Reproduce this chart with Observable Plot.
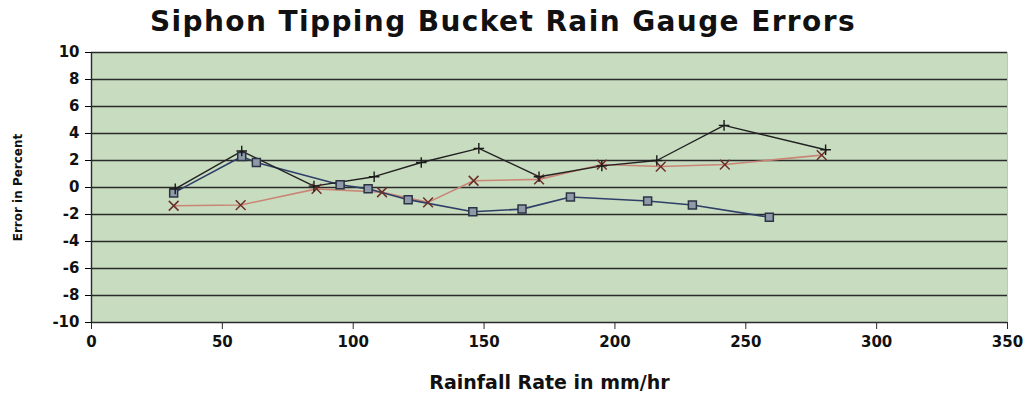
<!DOCTYPE html>
<html>
<head>
<meta charset="utf-8">
<script src="https://cdn.jsdelivr.net/npm/d3@7"></script>
<script src="https://cdn.jsdelivr.net/npm/@observablehq/plot@0.6"></script>
<style>
  body { margin: 0; background: #fff; font-family: "DejaVu Sans", "Liberation Sans", Arial, sans-serif; }
  #title { height: 40px; line-height: 44px; text-align: center; font-weight: bold; font-size: 28px; letter-spacing: 1.4px; padding-right: 22px; color: #111; }
</style>
</head>
<body>
<div id="title">Siphon Tipping Bucket Rain Gauge Errors</div>
<div id="chart"></div>
<script>
// Rainfall rate (mm/hr) and gauge error (%) for each test series
const blueRate  = [31.4, 57.4, 63, 95, 105.7, 121, 145.7, 164.5, 183, 212.5, 229.6, 259];
const blueError = [-0.4, 2.3, 1.85, 0.2, -0.1, -0.9, -1.8, -1.6, -0.7, -1.0, -1.3, -2.2];

const redRate  = [31.4, 57, 86, 111, 128.6, 146, 171, 195, 217.5, 242, 279];
const redError = [-1.35, -1.3, -0.1, -0.35, -1.1, 0.5, 0.6, 1.7, 1.55, 1.7, 2.4];

const blackRate  = [32, 57.4, 85, 108, 126, 148, 171, 195, 216, 241.7, 280.5];
const blackError = [-0.1, 2.7, 0.1, 0.8, 1.85, 2.9, 0.8, 1.6, 2.0, 4.6, 2.8];

const xTicks = [0, 50, 100, 150, 200, 250, 300, 350];
const yTicks = [-10, -8, -6, -4, -2, 0, 2, 4, 6, 8, 10];

const toRows = (xs, ys) => xs.map((x, i) => ({x, y: ys[i]}));
const blue = toRows(blueRate, blueError);
const red = toRows(redRate, redError);
const black = toRows(blackRate, blackError);

const font = {fontSize: 15, fontWeight: "bold", fill: "#111"};
const plain = d => String(d); // hyphen-minus for negative ticks

const chart = Plot.plot({
  width: 1028,
  height: 353,
  marginLeft: 91,
  marginRight: 21,
  marginTop: 12,
  marginBottom: 71,
  style: {fontFamily: "'DejaVu Sans', 'Liberation Sans', Arial, sans-serif", background: "#fff"},
  x: {domain: [0, 350]},
  y: {domain: [-10, 10]},
  marks: [
    Plot.frame({fill: "#c8dcc0", stroke: "#b9ccb2"}),
    Plot.ruleY(yTicks.filter(d => d > -10), {stroke: "#2a2a2a", strokeWidth: 1.4}),
    Plot.ruleX([0], {stroke: "#2a2a2a", strokeWidth: 1.4}),
    Plot.ruleY([-10], {stroke: "#2a2a2a", strokeWidth: 1.6}),
    Plot.axisX({ticks: xTicks, tickSize: 7, tickPadding: 7, tickFormat: plain, label: null, ...font, stroke: "#2a2a2a"}),
    Plot.axisY({ticks: yTicks, tickSize: 6, tickPadding: 6, tickFormat: plain, label: null, ...font}),
    Plot.text(["Rainfall Rate in mm/hr"], {frameAnchor: "bottom", dy: 66, fontSize: 19, fontWeight: "bold", fill: "#111", letterSpacing: 1.3}),
    Plot.text(["Error in Percent"], {frameAnchor: "left", textAnchor: "middle", dx: -73, rotate: -90, fontSize: 12, fontWeight: "bold", fill: "#111"}),
    // series lines
    Plot.line(red, {x: "x", y: "y", stroke: "#c98676", strokeWidth: 1.6}),
    Plot.line(blue, {x: "x", y: "y", stroke: "#2f3f68", strokeWidth: 1.6}),
    Plot.line(black, {x: "x", y: "y", stroke: "#222", strokeWidth: 1.4}),
    // series markers
    Plot.dot(blue, {x: "x", y: "y", symbol: "square", r: 4.5, stroke: "#2c3344", strokeWidth: 1.5, fill: "#8f9aa8"}),
    Plot.dot(red, {x: "x", y: "y", symbol: "times", r: 4.5, stroke: "#6b2f28", strokeWidth: 1.5}),
    Plot.dot(black, {x: "x", y: "y", symbol: "plus", r: 3.5, stroke: "#1a1a1a", strokeWidth: 1.4})
  ]
});
document.getElementById("chart").appendChild(chart);
</script>
</body>
</html>
